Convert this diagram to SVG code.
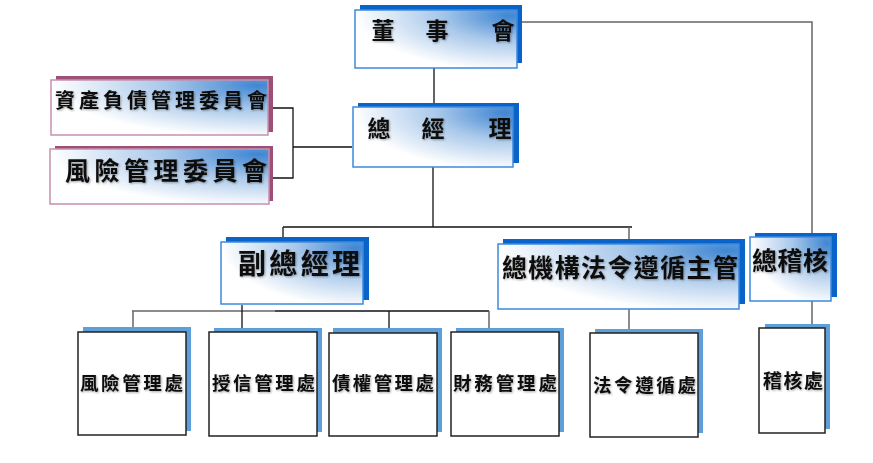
<svg xmlns="http://www.w3.org/2000/svg" width="873" height="463" viewBox="0 0 873 463">
<style>
.t{font-family:"Noto Sans CJK TC","Noto Sans CJK SC",sans-serif;font-weight:bold;fill:#111;filter:url(#ts)}
.sh{fill:#0a63c9}
.fr{fill:url(#g);stroke:#3b8ae0;stroke-width:1.5}
.csh{fill:#9c5078}
.cfr{fill:url(#g);stroke:#c690ae;stroke-width:1.5}
.bsh{fill:#5f9fd9}
.bfr{fill:#fff;stroke:#222;stroke-width:1.5}
.ln{fill:none;stroke:#111;stroke-width:1.3}
.lg{fill:none;stroke:#666;stroke-width:1.5}
</style>
<defs>
<radialGradient id="g" cx="1" cy="0.05" r="1" fx="0.95" fy="0.1">
<stop offset="0" stop-color="#3f86d2"/>
<stop offset="0.45" stop-color="#a9c8ea"/>
<stop offset="1" stop-color="#ffffff"/>
</radialGradient>
<filter id="ts" x="-10%" y="-20%" width="130%" height="150%">
<feGaussianBlur in="SourceAlpha" stdDeviation="1"/>
<feOffset dx="1" dy="1" result="b"/>
<feFlood flood-color="#000" flood-opacity="0.35"/>
<feComposite in2="b" operator="in"/>
<feMerge><feMergeNode/><feMergeNode in="SourceGraphic"/></feMerge>
</filter>
</defs>
<rect width="873" height="463" fill="#fff"/>
<g id="connectors">
<line class="ln" x1="434" y1="68" x2="434" y2="104"/>
<polyline class="lg" points="517,22 812,22 812,233"/>
<line class="lg" x1="812" y1="301" x2="812" y2="324"/>
<line class="ln" x1="293" y1="147" x2="352" y2="147"/>
<polyline class="ln" points="272,108 293,108 293,178 267,178"/>
<line class="ln" x1="433" y1="167" x2="433" y2="227"/>
<line class="ln" x1="283" y1="227" x2="632" y2="227"/>
<line class="ln" x1="283" y1="227" x2="283" y2="238"/>
<line class="lg" x1="629" y1="227" x2="629" y2="240"/>
<line class="lg" x1="629" y1="309" x2="629" y2="330"/>
<line class="lg" x1="132" y1="311" x2="275" y2="311"/>
<line class="ln" x1="275" y1="311" x2="489" y2="311"/>
<line class="lg" x1="133" y1="311" x2="133" y2="333"/>
<line class="ln" x1="242" y1="305" x2="242" y2="331"/>
<line class="ln" x1="389" y1="311" x2="389" y2="333"/>
<line class="lg" x1="489" y1="311" x2="489" y2="333"/>
</g>
<g id="board">
<rect class="sh" x="360" y="5" width="162" height="58"/>
<rect class="fr" x="355" y="10" width="162" height="58"/>
<text class="t" font-size="23" y="39" text-anchor="middle"><tspan x="383">董</tspan><tspan x="437">事</tspan><tspan x="503">會</tspan></text>
</g>
<g id="gm">
<rect class="sh" x="358" y="103" width="161" height="60"/>
<rect class="fr" x="353" y="107" width="160" height="60"/>
<text class="t" font-size="23" y="137" text-anchor="middle"><tspan x="379">總</tspan><tspan x="433">經</tspan><tspan x="500">理</tspan></text>
</g>
<g id="alco">
<rect class="csh" x="56" y="76" width="217" height="56"/>
<rect class="cfr" x="51" y="80" width="217" height="55"/>
<text class="t" font-size="20" x="55" y="108" textLength="212" lengthAdjust="spacing">資產負債管理委員會</text>
</g>
<g id="rmc">
<rect class="csh" x="55" y="146" width="218" height="55"/>
<rect class="cfr" x="50" y="149" width="219" height="55"/>
<text class="t" font-size="25" x="65" y="180" textLength="202" lengthAdjust="spacing">風險管理委員會</text>
</g>
<g id="dgm">
<rect class="sh" x="226" y="237" width="143" height="63"/>
<rect class="fr" x="221" y="242" width="142" height="62"/>
<text class="t" font-size="28" x="238" y="274" textLength="122" lengthAdjust="spacing">副總經理</text>
</g>
<g id="cco">
<rect class="sh" x="503" y="239" width="242" height="65"/>
<rect class="fr" x="498" y="244" width="241" height="65"/>
<text class="t" font-size="25" x="502" y="277" textLength="236" lengthAdjust="spacing">總機構法令遵循主管</text>
</g>
<g id="ca">
<rect class="sh" x="755" y="233" width="82" height="64"/>
<rect class="fr" x="750" y="237" width="81" height="64"/>
<text class="t" font-size="25" x="752" y="270" textLength="76" lengthAdjust="spacing">總稽核</text>
</g>
<g id="d1">
<rect class="bsh" x="83" y="327" width="108" height="104"/>
<rect class="bfr" x="78" y="332" width="108" height="103"/>
<text class="t" font-size="18.5" x="80" y="390" textLength="103" lengthAdjust="spacing">風險管理處</text>
</g>
<g id="d2">
<rect class="bsh" x="214" y="328" width="108" height="104"/>
<rect class="bfr" x="209" y="332" width="108" height="104"/>
<text class="t" font-size="18.5" x="212" y="390" textLength="103" lengthAdjust="spacing">授信管理處</text>
</g>
<g id="d3">
<rect class="bsh" x="333" y="328" width="109" height="104"/>
<rect class="bfr" x="329" y="333" width="108" height="103"/>
<text class="t" font-size="18.5" x="332" y="390" textLength="102" lengthAdjust="spacing">債權管理處</text>
</g>
<g id="d4">
<rect class="bsh" x="456" y="328" width="108" height="104"/>
<rect class="bfr" x="451" y="332" width="108" height="104"/>
<text class="t" font-size="18.5" x="453" y="390" textLength="104" lengthAdjust="spacing">財務管理處</text>
</g>
<g id="d5">
<rect class="bsh" x="595" y="329" width="108" height="104"/>
<rect class="bfr" x="590" y="333" width="108" height="104"/>
<text class="t" font-size="18.5" x="593" y="392" textLength="103" lengthAdjust="spacing">法令遵循處</text>
</g>
<g id="d6">
<rect class="bsh" x="765" y="324" width="65" height="105"/>
<rect class="bfr" x="759" y="328" width="66" height="105"/>
<text class="t" font-size="19" x="763" y="388" textLength="60" lengthAdjust="spacing">稽核處</text>
</g>
</svg>
